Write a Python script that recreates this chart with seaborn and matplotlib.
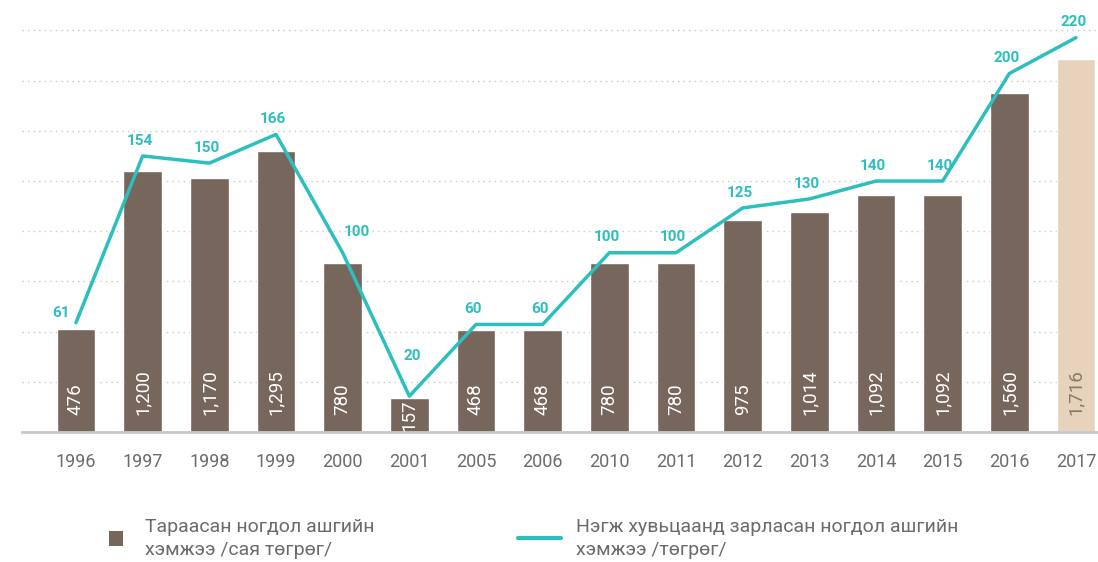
import numpy as np
import matplotlib
matplotlib.use("Agg")
import matplotlib.pyplot as plt
import seaborn as sns
from matplotlib.patches import Patch
from matplotlib.lines import Line2D

# 데이터
years = ['1996', '1997', '1998', '1999', '2000', '2001', '2005', '2006',
         '2010', '2011', '2012', '2013', '2014', '2015', '2016', '2017']
dividend_total = [476, 1200, 1170, 1295, 780, 157, 468, 468,
                  780, 780, 975, 1014, 1092, 1092, 1560, 1716]
dividend_per_share = [61, 154, 150, 166, 100, 20, 60, 60,
                      100, 100, 125, 130, 140, 140, 200, 220]
bar_labels = ['476', '1,200', '1,170', '1,295', '780', '157', '468', '468',
              '780', '780', '975', '1,014', '1,092', '1,092', '1,560', '1,716']
legend_bar = 'Тараасан ногдол ашгийн\nхэмжээ /сая төгрөг/'
legend_line = 'Нэгж хувьцаанд зарласан ногдол ашгийн\nхэмжээ /төгрөг/'

# 스타일
sns.set_style("white")
plt.rcParams['font.family'] = ['Roboto', 'DejaVu Sans']

BAR = '#77665c'
BAR_LAST = '#e7d3bb'
TEAL = '#2dbfbf'
GREY = '#6b6b6b'

bar_top = 1990
line_top = 241

fig = plt.figure(figsize=(10.98, 5.62), dpi=100)
ax = fig.add_axes([22 / 1098, 130 / 562, 1076 / 1098, 432 / 562])

colors = [BAR] * (len(years) - 1) + [BAR_LAST]
sns.barplot(x=years, y=dividend_total, hue=years, palette=colors,
            legend=False, width=0.58, saturation=1, ax=ax, zorder=2)

ax.set_xlim(-0.81, len(years) - 0.67)
ax.set_ylim(0, bar_top)

# 점선 그리드 (선 축 기준 28 단위 간격)
grid_units = np.arange(28, line_top, 28)
ax.set_yticks(grid_units * bar_top / line_top)
ax.set_yticklabels([])
ax.tick_params(axis='y', length=0)
ax.grid(axis='y', color='#c8c8c8', linestyle=(0, (1, 3)), linewidth=1)
ax.set_axisbelow(True)

for s in ['top', 'right', 'left']:
    ax.spines[s].set_visible(False)
ax.spines['bottom'].set_color('#c8c8c8')
ax.spines['bottom'].set_linewidth(2)
ax.tick_params(axis='x', length=0, pad=15, labelsize=13, labelcolor=GREY)
ax.set_xlabel('')
ax.set_ylabel('')

# 막대 안 라벨 (2001은 막대가 낮아서 아래로 붙임)
for i, lab in enumerate(bar_labels):
    c = 'white' if i < len(years) - 1 else '#8a7868'
    dy = 1 if dividend_total[i] < 300 else 12
    ax.annotate(lab, (i, 0), xytext=(0, dy), textcoords='offset points',
                rotation=90, ha='center', va='bottom', color=c,
                fontsize=13.5, zorder=3)

# 선 그래프 (보조 축)
ax2 = ax.twinx()
xs = np.arange(len(years))
sns.lineplot(x=xs, y=dividend_per_share, color=TEAL, linewidth=2.5,
             ax=ax2, zorder=4)
ax2.set_ylim(0, line_top)
ax2.set_yticks([])
for s in ax2.spines.values():
    s.set_visible(False)
ax2.set_ylabel('')

label_offset = {0: (-11, 2), 4: (10, 10), 5: (2, 24)}
for i, v in enumerate(dividend_per_share):
    dx, dy = label_offset.get(i, (-2, 6))
    ax2.annotate(str(v), (i, v), xytext=(dx, dy), textcoords='offset points',
                 ha='center', va='bottom', color=TEAL, fontsize=11,
                 fontweight='bold')

# 범례
h1 = [Patch(facecolor=BAR, edgecolor='none')]
h2 = [Line2D([0], [0], color=TEAL, linewidth=3)]
leg1 = fig.legend(h1, [legend_bar], loc='upper left',
                  bbox_to_anchor=(101 / 1098, 1 - 510 / 562), frameon=False,
                  fontsize=14, labelcolor=GREY, handlelength=0.75,
                  handleheight=0.75, handletextpad=1.1, borderaxespad=0)
leg2 = fig.legend(h2, [legend_line], loc='upper left',
                  bbox_to_anchor=(510 / 1098, 1 - 510 / 562), frameon=False,
                  fontsize=14, labelcolor=GREY, handlelength=2.2,
                  handletextpad=0.8, borderaxespad=0)
for leg in (leg1, leg2):
    for t in leg.get_texts():
        t.set_linespacing(1.35)

fig.savefig('out.png', dpi=100)
